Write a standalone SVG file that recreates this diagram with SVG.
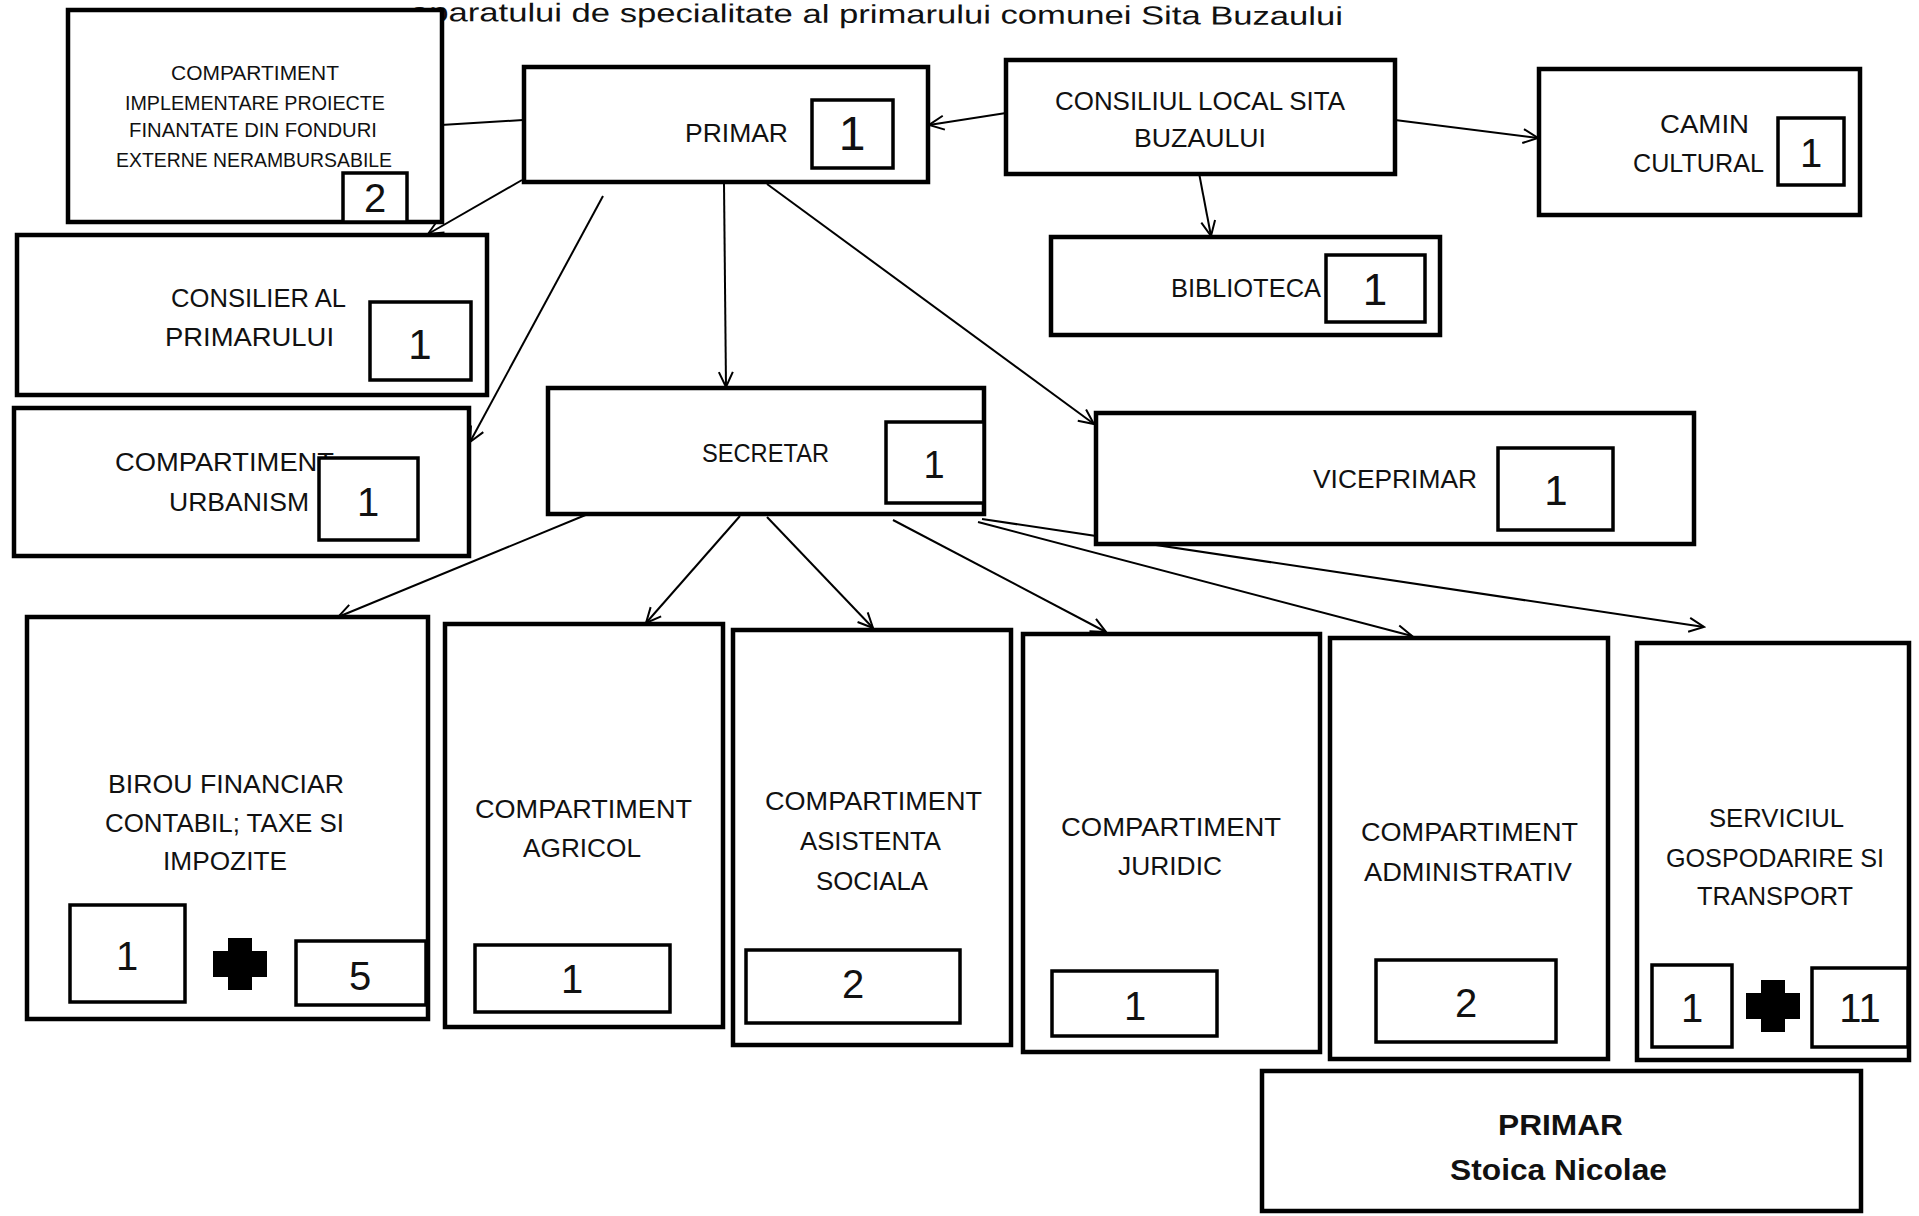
<svg xmlns="http://www.w3.org/2000/svg" width="1919" height="1216" viewBox="0 0 1919 1216">
<defs>
<style>
.box{fill:#fff;stroke:#000;stroke-width:4.5}
.nb{fill:#fff;stroke:#000;stroke-width:3.5}
.t{font-family:"Liberation Sans",Arial,sans-serif;font-size:26px;fill:#111}
.s{font-family:"Liberation Sans",Arial,sans-serif;font-size:20px;fill:#111}
.n{font-family:"Liberation Sans",Arial,sans-serif;font-size:40px;fill:#111;text-anchor:middle}
.b{font-family:"Liberation Sans",Arial,sans-serif;font-size:29px;font-weight:bold;fill:#111}
.c{fill:none;stroke:#000;stroke-width:2}
.ca{fill:none;stroke:#000;stroke-width:2;marker-end:url(#ah)}
</style>
<marker id="ah" viewBox="-17 -9 19 18" refX="0" refY="0" markerWidth="19" markerHeight="18" markerUnits="userSpaceOnUse" orient="auto">
<path d="M-15,-7 L0,0 L-15,7" fill="none" stroke="#000" stroke-width="2"/>
</marker>
<path id="plus" d="M-12,-26 H12 V-13 H27 V13 H12 V26 H-12 V13 H-27 V-13 H-12 Z"/>
</defs>
<rect width="1919" height="1216" fill="#fff"/>

<g id="title">
<text class="t" x="410" y="23" textLength="933" lengthAdjust="spacingAndGlyphs" transform="rotate(0.25 876 23)">aparatului de specialitate al primarului comunei Sita Buzaului</text>
</g>

<g id="connectors">
<line class="c" x1="441" y1="125" x2="523" y2="120"/>
<line class="ca" x1="1006" y1="113" x2="929" y2="125"/>
<line class="ca" x1="1395" y1="120" x2="1538" y2="138"/>
<line class="ca" x1="1199" y1="173" x2="1211" y2="236"/>
<line class="ca" x1="522" y1="180" x2="428" y2="234"/>
<line class="ca" x1="603" y1="196" x2="470" y2="442"/>
<line class="ca" x1="724" y1="183" x2="726" y2="387"/>
<line class="ca" x1="767" y1="184" x2="1094" y2="424"/>
<line class="ca" x1="588" y1="514" x2="338" y2="617"/>
<line class="ca" x1="740" y1="516" x2="646" y2="623"/>
<line class="ca" x1="767" y1="517" x2="873" y2="628"/>
<line class="ca" x1="893" y1="520" x2="1106" y2="632"/>
<line class="ca" x1="978" y1="522" x2="1412" y2="636"/>
<line class="ca" x1="982" y1="519" x2="1704" y2="627"/>
</g>

<g id="cip">
<rect class="box" x="68" y="10" width="374" height="212"/>
<text class="s" x="171" y="80" textLength="168" lengthAdjust="spacingAndGlyphs">COMPARTIMENT</text>
<text class="s" x="125" y="110" textLength="260" lengthAdjust="spacingAndGlyphs">IMPLEMENTARE PROIECTE</text>
<text class="s" x="129" y="137" textLength="248" lengthAdjust="spacingAndGlyphs">FINANTATE DIN FONDURI</text>
<text class="s" x="116" y="167" textLength="276" lengthAdjust="spacingAndGlyphs">EXTERNE NERAMBURSABILE</text>
<rect class="nb" x="343" y="173" width="64" height="49"/>
<text class="n" x="375" y="212">2</text>
</g>

<g id="primar">
<rect class="box" x="524" y="67" width="404" height="115"/>
<text class="t" x="685" y="142" textLength="103" lengthAdjust="spacingAndGlyphs">PRIMAR</text>
<rect class="nb" x="812" y="100" width="81" height="68"/>
<text class="n" x="852" y="150" style="font-size:48px">1</text>
</g>

<g id="consiliul-local">
<rect class="box" x="1006" y="60" width="389" height="114"/>
<text class="t" x="1055" y="110" textLength="290" lengthAdjust="spacingAndGlyphs">CONSILIUL LOCAL SITA</text>
<text class="t" x="1134" y="147" textLength="132" lengthAdjust="spacingAndGlyphs">BUZAULUI</text>
</g>

<g id="camin-cultural">
<rect class="box" x="1539" y="69" width="321" height="146"/>
<text class="t" x="1660" y="133" textLength="89" lengthAdjust="spacingAndGlyphs">CAMIN</text>
<text class="t" x="1633" y="172" textLength="131" lengthAdjust="spacingAndGlyphs">CULTURAL</text>
<rect class="nb" x="1778" y="118" width="66" height="67"/>
<text class="n" x="1811" y="167">1</text>
</g>

<g id="biblioteca">
<rect class="box" x="1051" y="237" width="389" height="98"/>
<text class="t" x="1171" y="297" textLength="150" lengthAdjust="spacingAndGlyphs">BIBLIOTECA</text>
<rect class="nb" x="1326" y="255" width="99" height="67"/>
<text class="n" x="1375" y="305" style="font-size:44px">1</text>
</g>

<g id="consilier">
<rect class="box" x="17" y="235" width="470" height="160"/>
<text class="t" x="171" y="307" textLength="175" lengthAdjust="spacingAndGlyphs">CONSILIER AL</text>
<text class="t" x="165" y="346" textLength="169" lengthAdjust="spacingAndGlyphs">PRIMARULUI</text>
<rect class="nb" x="370" y="302" width="101" height="78"/>
<text class="n" x="420" y="359" style="font-size:42px">1</text>
</g>

<g id="urbanism">
<rect class="box" x="14" y="408" width="455" height="148"/>
<text class="t" x="115" y="471" textLength="219" lengthAdjust="spacingAndGlyphs">COMPARTIMENT</text>
<text class="t" x="169" y="511" textLength="140" lengthAdjust="spacingAndGlyphs">URBANISM</text>
<rect class="nb" x="319" y="458" width="99" height="82"/>
<text class="n" x="368" y="516">1</text>
</g>

<g id="secretar">
<rect class="box" x="548" y="388" width="436" height="126"/>
<text class="t" x="702" y="462" textLength="127" lengthAdjust="spacingAndGlyphs">SECRETAR</text>
<rect class="nb" x="886" y="422" width="98" height="81"/>
<text class="n" x="934" y="478" style="font-size:38px">1</text>
</g>

<g id="viceprimar">
<rect class="box" x="1096" y="413" width="598" height="131"/>
<text class="t" x="1313" y="488" textLength="164" lengthAdjust="spacingAndGlyphs">VICEPRIMAR</text>
<rect class="nb" x="1498" y="448" width="115" height="82"/>
<text class="n" x="1556" y="505" style="font-size:42px">1</text>
</g>

<g id="birou-financiar">
<rect class="box" x="27" y="617" width="401" height="402"/>
<text class="t" x="108" y="793" textLength="236" lengthAdjust="spacingAndGlyphs">BIROU FINANCIAR</text>
<text class="t" x="105" y="832" textLength="239" lengthAdjust="spacingAndGlyphs">CONTABIL; TAXE SI</text>
<text class="t" x="163" y="870" textLength="124" lengthAdjust="spacingAndGlyphs">IMPOZITE</text>
<rect class="nb" x="70" y="905" width="115" height="97"/>
<text class="n" x="127" y="970">1</text>
<use href="#plus" x="240" y="964"/>
<rect class="nb" x="296" y="941" width="130" height="64"/>
<text class="n" x="360" y="990">5</text>
</g>

<g id="agricol">
<rect class="box" x="445" y="624" width="278" height="403"/>
<text class="t" x="475" y="818" textLength="217" lengthAdjust="spacingAndGlyphs">COMPARTIMENT</text>
<text class="t" x="523" y="857" textLength="118" lengthAdjust="spacingAndGlyphs">AGRICOL</text>
<rect class="nb" x="475" y="945" width="195" height="67"/>
<text class="n" x="572" y="993">1</text>
</g>

<g id="asistenta-sociala">
<rect class="box" x="733" y="630" width="278" height="415"/>
<text class="t" x="765" y="810" textLength="217" lengthAdjust="spacingAndGlyphs">COMPARTIMENT</text>
<text class="t" x="800" y="850" textLength="141" lengthAdjust="spacingAndGlyphs">ASISTENTA</text>
<text class="t" x="816" y="890" textLength="112" lengthAdjust="spacingAndGlyphs">SOCIALA</text>
<rect class="nb" x="746" y="950" width="214" height="73"/>
<text class="n" x="853" y="998">2</text>
</g>

<g id="juridic">
<rect class="box" x="1023" y="634" width="297" height="418"/>
<text class="t" x="1061" y="836" textLength="220" lengthAdjust="spacingAndGlyphs">COMPARTIMENT</text>
<text class="t" x="1118" y="875" textLength="104" lengthAdjust="spacingAndGlyphs">JURIDIC</text>
<rect class="nb" x="1052" y="971" width="165" height="65"/>
<text class="n" x="1135" y="1020">1</text>
</g>

<g id="administrativ">
<rect class="box" x="1330" y="638" width="278" height="421"/>
<text class="t" x="1361" y="841" textLength="217" lengthAdjust="spacingAndGlyphs">COMPARTIMENT</text>
<text class="t" x="1364" y="881" textLength="208" lengthAdjust="spacingAndGlyphs">ADMINISTRATIV</text>
<rect class="nb" x="1376" y="960" width="180" height="82"/>
<text class="n" x="1466" y="1017">2</text>
</g>

<g id="serviciul-gospodarire">
<rect class="box" x="1637" y="643" width="272" height="417"/>
<text class="t" x="1709" y="827" textLength="135" lengthAdjust="spacingAndGlyphs">SERVICIUL</text>
<text class="t" x="1666" y="867" textLength="218" lengthAdjust="spacingAndGlyphs">GOSPODARIRE SI</text>
<text class="t" x="1697" y="905" textLength="156" lengthAdjust="spacingAndGlyphs">TRANSPORT</text>
<rect class="nb" x="1652" y="965" width="80" height="82"/>
<text class="n" x="1692" y="1022">1</text>
<use href="#plus" x="1773" y="1006"/>
<rect class="nb" x="1812" y="968" width="96" height="79"/>
<text class="n" x="1860" y="1022">11</text>
</g>

<g id="primar-semnatura">
<rect class="box" x="1262" y="1071" width="599" height="140"/>
<text class="b" x="1498" y="1135" textLength="125" lengthAdjust="spacingAndGlyphs">PRIMAR</text>
<text class="b" x="1450" y="1180" textLength="217" lengthAdjust="spacingAndGlyphs">Stoica Nicolae</text>
</g>
</svg>
